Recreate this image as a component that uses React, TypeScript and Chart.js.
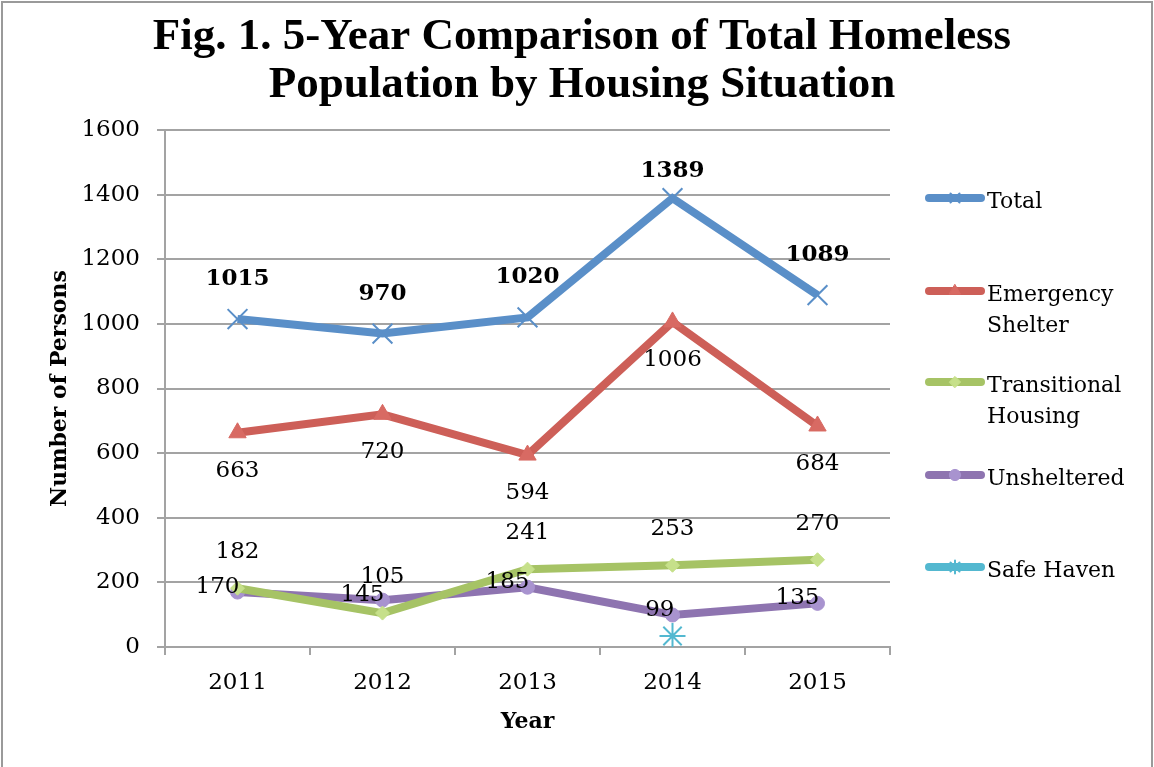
import React, { useEffect, useRef } from 'react';
import { Chart, registerables } from 'chart.js';
import { drawPoint } from 'chart.js/helpers';

Chart.register(...registerables);

const years = ['2011', '2012', '2013', '2014', '2015'];
const total = [1015, 970, 1020, 1389, 1089];
const emergency = [663, 720, 594, 1006, 684];
const transitional = [182, 105, 241, 253, 270];
const unsheltered = [170, 145, 185, 99, 135];
const safeHaven = [null, null, null, 34, null];
const legendLabels = [['Total'], ['Emergency', 'Shelter'], ['Transitional', 'Housing'], ['Unsheltered'], ['Safe Haven']];
const titleLines = ['Fig. 1. 5-Year Comparison of Total Homeless', 'Population by Housing Situation'];

const SERIF = '"DejaVu Serif", serif';
const TITLE_FONT = '"Liberation Serif", serif';
const GRID = '#a3a3a3';

const framePlugin = {
  id: 'frame',
  beforeDraw(chart: any) {
    const ctx = chart.ctx;
    ctx.save();
    ctx.fillStyle = '#fff';
    ctx.fillRect(0, 0, chart.width, chart.height);
    ctx.restore();
  },
  afterDraw(chart: any) {
    const ctx = chart.ctx;
    ctx.save();
    ctx.strokeStyle = '#9a9a9a';
    ctx.lineWidth = 2;
    ctx.strokeRect(2, 2, chart.width - 4, chart.height + 10);
    ctx.fillStyle = '#000';
    ctx.font = `bold 45px ${TITLE_FONT}`;
    ctx.textAlign = 'center';
    ctx.textBaseline = 'middle';
    titleLines.forEach((t, i) => ctx.fillText(t, 582, 37 + i * 48));
    ctx.restore();
  },
};

const labelCfg: any[] = [
  { dx: 0, dy: -40, align: 'center', bold: true, minTop: 41 },
  { dx: 0, dy: 38, align: 'center' },
  { dx: 0, dy: -36, align: 'center' },
  { dx: 2, dy: -5, align: 'right' },
  null,
];

const labelPlugin = {
  id: 'pointLabels',
  afterDatasetsDraw(chart: any) {
    const ctx = chart.ctx;
    chart.data.datasets.forEach((ds: any, i: number) => {
      const c = labelCfg[i];
      if (!c) return;
      const meta = chart.getDatasetMeta(i);
      meta.data.forEach((pt: any, j: number) => {
        const v = ds.data[j];
        if (v == null) return;
        let y = pt.y + c.dy;
        if (c.minTop) y = Math.max(y, chart.chartArea.top + c.minTop);
        ctx.save();
        ctx.font = `${c.bold ? 'bold ' : ''}23px ${SERIF}`;
        ctx.fillStyle = '#000';
        ctx.textAlign = c.align;
        ctx.textBaseline = 'middle';
        ctx.fillText(String(v), pt.x + c.dx, y);
        ctx.restore();
      });
    });
  },
};

const legendRows = [198, 291, 382, 475, 567];

const legendPlugin = {
  id: 'sideLegend',
  afterDraw(chart: any) {
    const ctx = chart.ctx;
    const x0 = chart.chartArea.right + 35;
    chart.data.datasets.forEach((ds: any, i: number) => {
      const y = legendRows[i];
      ctx.save();
      ctx.strokeStyle = ds.borderColor;
      ctx.lineWidth = 8;
      ctx.lineCap = 'round';
      ctx.beginPath();
      ctx.moveTo(x0 + 4, y);
      ctx.lineTo(x0 + 56, y);
      ctx.stroke();
      ctx.fillStyle = ds.pointBackgroundColor;
      ctx.strokeStyle = ds.pointBorderColor;
      ctx.lineWidth = ds.pointBorderWidth;
      drawPoint(ctx, { pointStyle: ds.pointStyle, radius: Math.min(ds.pointRadius, 8) * 0.8, borderWidth: ds.pointBorderWidth, rotation: 0 } as any, x0 + 30, y);
      ctx.fillStyle = '#000';
      ctx.font = `22px ${SERIF}`;
      ctx.textAlign = 'left';
      ctx.textBaseline = 'middle';
      legendLabels[i].forEach((t, k) => ctx.fillText(t, x0 + 62, y + 4 + k * 31));
      ctx.restore();
    });
  },
};

export default function App() {
  const ref = useRef<HTMLCanvasElement>(null);
  useEffect(() => {
    if (!ref.current) return;
    const mk = (label: string, data: any[], color: string, style: string, radius: number, fill: string, bw: number) => ({
      label,
      data,
      borderColor: color,
      backgroundColor: color,
      borderWidth: 8,
      pointStyle: style,
      pointRadius: radius,
      pointHoverRadius: radius,
      pointBackgroundColor: fill,
      pointBorderColor: style === 'crossRot' || style === 'star' ? color : fill,
      pointBorderWidth: bw,
      tension: 0,
      spanGaps: false,
    });
    const chart = new Chart(ref.current, {
      type: 'line',
      data: {
        labels: years,
        datasets: [
          mk('Total', total, '#5a8fc8', 'crossRot', 14, '#5a8fc8', 2),
          mk('Emergency Shelter', emergency, '#cd5f58', 'triangle', 10, '#d86a63', 1),
          mk('Transitional Housing', transitional, '#a6c365', 'rectRot', 7, '#c6e08a', 1),
          mk('Unsheltered', unsheltered, '#8e74b0', 'circle', 7, '#a893cf', 1),
          mk('Safe Haven', safeHaven, '#53b8d0', 'star', 13, '#53b8d0', 2),
        ] as any,
      },
      options: {
        responsive: false,
        animation: false,
        layout: { padding: { top: 130, right: 264, left: 47, bottom: 32 } },
        plugins: {
          legend: { display: false },
          title: { display: false },
          tooltip: { enabled: false },
        },
        scales: {
          x: {
            offset: true,
            afterFit: (s: any) => { s.height = 88; },
            grid: { offset: true, drawOnChartArea: false, drawTicks: true, tickLength: 8, color: GRID, lineWidth: 2 },
            border: { display: true, color: GRID, width: 2 },
            ticks: { font: { family: SERIF, size: 23 }, color: '#000', padding: 14 },
            title: { display: true, text: 'Year', font: { family: SERIF, size: 22, weight: 'bold' }, color: '#000', padding: { top: 0, bottom: 0 } },
          },
          y: {
            min: 0,
            max: 1600,
            afterFit: (s: any) => { s.width = 118; },
            ticks: { stepSize: 200, font: { family: SERIF, size: 23 }, color: '#000', padding: 17, callback: (v: any) => String(v) },
            grid: { color: GRID, lineWidth: 2, tickLength: 8 },
            border: { display: true, color: GRID, width: 2 },
            title: { display: true, text: 'Number of Persons', font: { family: SERIF, size: 22, weight: 'bold' }, color: '#000', padding: { top: 0, bottom: 0 } },
          },
        },
      },
      plugins: [framePlugin, labelPlugin, legendPlugin],
    });
    return () => chart.destroy();
  }, []);
  return (
    <div style={{ position: 'fixed', left: 0, top: 0, width: 1154, height: 767, background: '#fff' }}>
      <canvas ref={ref} width={1154} height={767} style={{ display: 'block' }} />
    </div>
  );
}
